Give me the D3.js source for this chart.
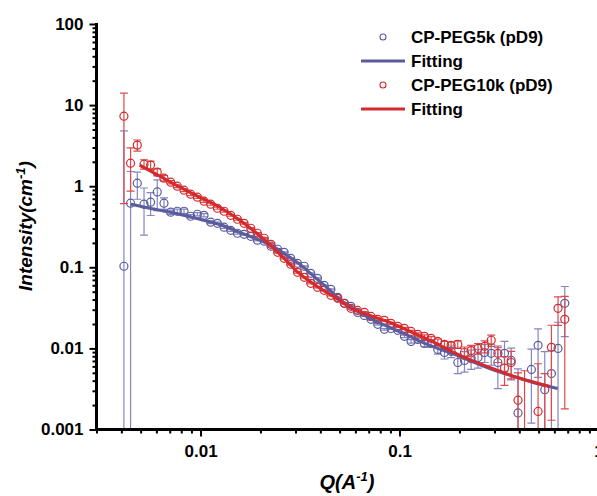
<!DOCTYPE html>
<html><head><meta charset="utf-8">
<script src="https://cdn.jsdelivr.net/npm/d3@7/dist/d3.min.js"></script>
<style>body{margin:0;background:#fff}svg{display:block}text{font-family:"Liberation Sans",Arial,sans-serif;font-weight:bold}</style>
</head><body>
<svg id="c" width="597" height="496"></svg>
<script>
// Q grid (A^-1), shared by both data sets
const Q = [0.00412,0.00445,0.00481,0.00520,0.00561,0.00606,0.00655,0.00708,0.00764,0.00826,
 0.00892,0.00964,0.01041,0.01125,0.01215,0.01313,0.01418,0.01532,0.01655,0.01788,
 0.01931,0.0209,0.0226,0.0244,0.0263,0.0284,0.0307,0.0332,0.0358,0.0387,
 0.0418,0.0452,0.0489,0.0528,0.0570,0.0616,0.0666,0.0719,0.0777,0.0839,
 0.0906,0.0980,0.1058,0.1143,0.1235,0.1334,0.1441,0.1557,0.1682,0.1817,
 0.1963,0.212,0.229,0.248,0.268,0.289,0.312,0.337,0.364,0.394,
 0.425,0.460,0.497,0.537,0.580,0.626,0.677];
// CP-PEG5k (pD9)
const I5k = [0.103,0.617,1.09,0.600,0.635,0.85,0.617,0.478,0.491,0.491,
 0.426,0.451,0.438,0.360,0.349,0.312,0.286,0.263,0.255,0.241,
 0.216,0.210,0.182,0.167,0.153,0.129,0.112,0.103,0.0843,0.0731,
 0.0600,0.0535,0.0426,0.0360,0.0330,0.0278,0.0255,0.0228,0.0198,0.0172,
 0.0176,0.0167,0.0141,0.0122,0.0129,0.0115,0.0115,0.0097,0.0089,0.0092,
 0.0067,0.0071,0.0075,0.0077,0.0089,0.0087,0.0067,0.0087,0.0071,0.0016,
 0.0007,0.0055,0.0109,0.0031,0.0049,0.0100,0.0360];
const err5k = [4.7,0.9,0.4,0.35,0.2,0.35,0.1,
 0.03,0.03,0.03,0.02,0.02,0.02,0.015,0.012,0.01,0.008,0.007,0.006,0.005,0.004,0.004,0.003,0.003,0.002,0.002,0.002,0.0015,0.0012,0.001,0.0009,0.0008,0.0007,0.0006,0.0006,0.0005,0.0005,0.0005,0.0004,0.0004,0.0004,0.0005,0.0005,0.0006,
 0.001,0.001,0.0012,0.0012,0.0015,0.0015,0.0018,0.002,0.002,0.002,0.0022,0.0025,0.0035,0.0035,0.003,
 0.004,0.0002,0.0043,0.0065,0.006,0.0045,0.011,0.022];
// CP-PEG10k (pD9)
const I10k = [7.31,1.92,3.21,1.87,1.82,1.49,1.255,1.12,1.0,0.893,
 0.797,0.732,0.653,0.600,0.535,0.491,0.438,0.391,0.349,0.303,
 0.263,0.228,0.192,0.153,0.129,0.109,0.0867,0.0753,0.0634,0.0566,
 0.0520,0.0451,0.0414,0.0360,0.0312,0.0294,0.0278,0.0248,0.0228,0.0222,
 0.0204,0.0187,0.0177,0.0162,0.0149,0.0141,0.0133,0.0122,0.0112,0.0109,
 0.0112,0.0089,0.0094,0.0100,0.0106,0.0126,0.0087,0.0057,0.0067,0.0023,
 0.0008,null,0.00167,0.0009,0.0103,0.0312,0.0228];
const err10k = [6.7,1.05,0.5,0.25,0.22,0.15,0.1,
 0.05,0.04,0.035,0.03,0.025,0.02,0.018,0.015,0.012,0.01,0.009,0.008,0.006,0.005,0.004,0.0035,0.003,0.0025,0.002,0.0018,0.0015,0.0012,0.001,0.0009,0.0008,0.0007,0.0007,0.0006,0.0006,0.0005,0.0005,0.0005,0.0005,0.0005,0.0005,0.0005,0.0005,
 0.0006,0.0006,0.0007,0.0008,0.001,0.001,0.0012,0.0015,0.0015,0.0015,0.0018,0.002,0.002,0.0022,0.0025,
 0.0027,0.0045,null,0.0048,0.004,0.009,0.012,0.021];
// Fitting curves
const fitQ5k = [0.00446,0.00556,0.00743,0.00992,0.01325,0.01576,0.01986,0.02307,0.02715,0.03155,0.03667,0.0431,0.0501,0.0563,0.0709,0.0894,0.1127,0.142,0.201,0.284,0.402,0.507,0.624];
const fitI5k = [0.600,0.535,0.464,0.391,0.321,0.270,0.216,0.182,0.141,0.109,0.0794,0.0566,0.0401,0.0330,0.0235,0.0182,0.01406,0.01089,0.00795,0.00565,0.00428,0.00361,0.00321];
const fitQ10k = [0.00495,0.00624,0.00787,0.00992,0.0125,0.01576,0.01918,0.02307,0.02592,0.03047,0.0354,0.0412,0.0484,0.0563,0.0709,0.0894,0.1127,0.142,0.201,0.284,0.402,0.569];
const fitI10k = [1.816,1.329,0.972,0.732,0.551,0.380,0.263,0.176,0.133,0.0893,0.0672,0.0520,0.0414,0.0320,0.0256,0.0209,0.0162,0.01255,0.00818,0.00581,0.00428,0.00340];
const yTicks = [0.001,0.01,0.1,1,10,100];
const yTickLabels = ["0.001","0.01","0.1","1","10","100"];
const xTicks = [0.01,0.1,1];
const xTickLabels = ["0.01","0.1","1"];
const legendLabels = ["CP-PEG5k (pD9)","Fitting","CP-PEG10k (pD9)","Fitting"];

const blue = "#5a5c9e", blueErr = "#8486bf", red = "#d22a2e", redErr = "#dc4a4a";
const svg = d3.select("#c");
const x = d3.scaleLog().domain([0.003,1]).range([96.5,598.5]);
const y = d3.scaleLog().domain([0.001,100]).range([429.5,24]);
const X0 = 96.5, Y0 = 429.5;

svg.append("defs").append("clipPath").attr("id","clip")
  .append("rect").attr("x",X0).attr("y",0).attr("width",600).attr("height",Y0);

const plot = svg.append("g").attr("clip-path","url(#clip)");

function drawSeries(I, E, col, ecol){
  const pts = Q.map((q,i)=>({q, v:I[i], e:E[i]})).filter(d=>d.v!=null);
  const g = plot.append("g");
  pts.forEach(d=>{
    const top = y(d.v + d.e);
    const lo = d.v - d.e;
    const bot = lo > 0 ? y(lo) : Y0 + 5;
    const px = x(d.q);
    g.append("line").attr("x1",px).attr("x2",px).attr("y1",top).attr("y2",bot)
      .attr("stroke",ecol).attr("stroke-width",1.2);
    g.append("line").attr("x1",px-4).attr("x2",px+4).attr("y1",top).attr("y2",top)
      .attr("stroke",ecol).attr("stroke-width",1.2);
    if (lo > 0) g.append("line").attr("x1",px-4).attr("x2",px+4).attr("y1",bot).attr("y2",bot)
      .attr("stroke",ecol).attr("stroke-width",1.2);
  });
  g.selectAll("circle").data(pts).join("circle")
    .attr("cx",d=>x(d.q)).attr("cy",d=>y(d.v)).attr("r",4)
    .attr("fill","none").attr("stroke",col).attr("stroke-width",1.2);
}
function drawFit(fq, fi, col){
  const line = d3.line().x(d=>x(d[0])).y(d=>y(d[1])).curve(d3.curveMonotoneX);
  plot.append("path").attr("d", line(fq.map((q,i)=>[q,fi[i]])))
    .attr("fill","none").attr("stroke",col).attr("stroke-width",3);
}
drawSeries(I5k, err5k, blue, blueErr);
drawSeries(I10k, err10k, red, redErr);
drawFit(fitQ5k, fitI5k, blue);
drawFit(fitQ10k, fitI10k, red);

// minor ticks
const yMinor = [], xMinor = [];
[0.001,0.01,0.1,1,10].forEach(b=>{for(let m=2;m<=9;m++) yMinor.push(b*m);});
[0.001,0.01,0.1].forEach(b=>{for(let m=2;m<=9;m++){const v=b*m; if(v>=0.003&&v<1) xMinor.push(v);}});

const yAx = svg.append("g").attr("transform",`translate(${X0},0)`);
yAx.call(d3.axisLeft(y).tickValues(yMinor).tickSize(4).tickFormat(""));
yAx.call(g=>g.append("g").call(d3.axisLeft(y).tickValues(yTicks).tickSize(7).tickPadding(6)
   .tickFormat((d,i)=>yTickLabels[i])));
const xAx = svg.append("g").attr("transform",`translate(0,${Y0})`);
xAx.call(d3.axisBottom(x).tickValues(xMinor).tickSize(4).tickFormat(""));
xAx.call(g=>g.append("g").call(d3.axisBottom(x).tickValues(xTicks).tickSize(7).tickPadding(8)
   .tickFormat((d,i)=>xTickLabels[i])));
svg.selectAll(".domain").remove();
svg.selectAll(".tick line").attr("stroke","#000").attr("stroke-width",2);
svg.selectAll(".tick text").attr("fill","#000").style("font-size","17px").style("font-weight","bold")
  .style("font-family","'Liberation Sans',Arial,sans-serif");
svg.append("line").attr("x1",X0).attr("x2",X0).attr("y1",y(100)-1).attr("y2",Y0+1.5)
  .attr("stroke","#000").attr("stroke-width",3);
svg.append("line").attr("x1",X0-1.5).attr("x2",600).attr("y1",Y0).attr("y2",Y0)
  .attr("stroke","#000").attr("stroke-width",3);

// axis titles
const yt = svg.append("text").attr("transform","translate(32,226) rotate(-90)")
  .attr("text-anchor","middle").style("font-size","19px").style("font-style","italic");
yt.append("tspan").text("Intensity(cm");
yt.append("tspan").attr("dy",-7).style("font-size","13px").text("-1");
yt.append("tspan").attr("dy",7).text(")");
const xt = svg.append("text").attr("x",347).attr("y",489)
  .attr("text-anchor","middle").style("font-size","20px").style("font-style","italic");
xt.append("tspan").text("Q(A");
xt.append("tspan").attr("dy",-8).style("font-size","13px").text("-1");
xt.append("tspan").attr("dy",8).text(")");

// legend
const lg = svg.append("g");
const rows = [37,61,85,109];
const lcols = [blue, blue, red, red];
rows.forEach((ry,i)=>{
  if (i%2===0) lg.append("circle").attr("cx",383).attr("cy",ry).attr("r",3).attr("fill","none")
     .attr("stroke",lcols[i]).attr("stroke-width",1.1);
  else lg.append("line").attr("x1",361).attr("x2",405).attr("y1",ry).attr("y2",ry)
     .attr("stroke",lcols[i]).attr("stroke-width",3);
  lg.append("text").attr("x",411).attr("y",ry+6).style("font-size","17px").text(legendLabels[i]);
});
</script>
</body></html>
